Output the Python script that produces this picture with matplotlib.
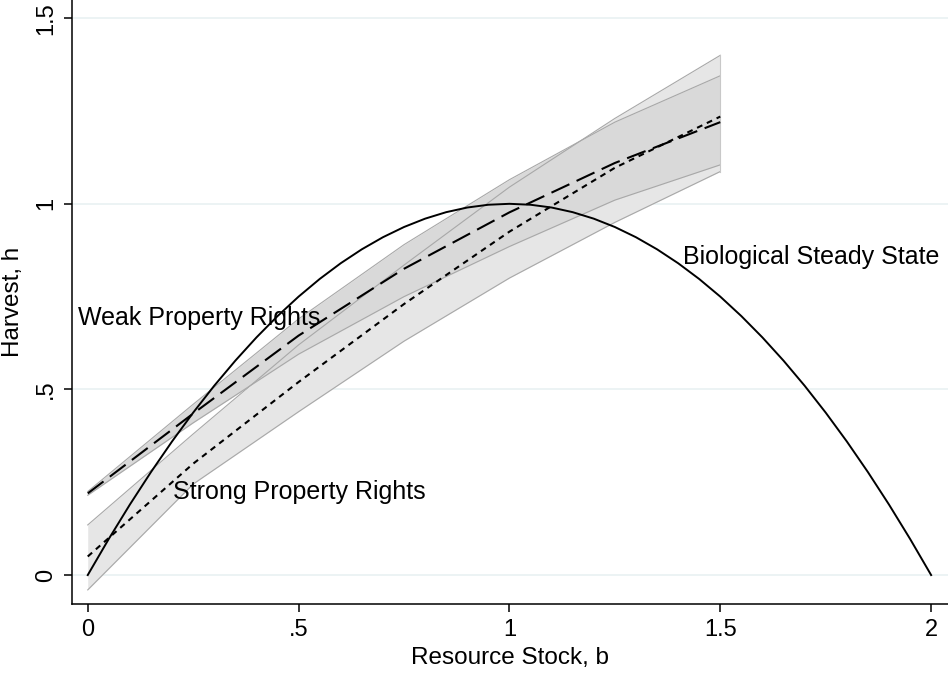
import numpy as np
import matplotlib.pyplot as plt

plt.rcParams["font.family"] = ["Liberation Sans", "DejaVu Sans"]

# biological steady state
bio_b = [0.0, 0.05, 0.1, 0.15, 0.2, 0.25, 0.3, 0.35, 0.4, 0.45, 0.5,
         0.55, 0.6, 0.65, 0.7, 0.75, 0.8, 0.85, 0.9, 0.95, 1.0,
         1.05, 1.1, 1.15, 1.2, 1.25, 1.3, 1.35, 1.4, 1.45, 1.5,
         1.55, 1.6, 1.65, 1.7, 1.75, 1.8, 1.85, 1.9, 1.95, 2.0]
bio_h = [0.0, 0.0975, 0.19, 0.2775, 0.36, 0.4375, 0.51, 0.5775, 0.64, 0.6975, 0.75,
         0.7975, 0.84, 0.8775, 0.91, 0.9375, 0.96, 0.9775, 0.99, 0.9975, 1.0,
         0.9975, 0.99, 0.9775, 0.96, 0.9375, 0.91, 0.8775, 0.84, 0.7975, 0.75,
         0.6975, 0.64, 0.5775, 0.51, 0.4375, 0.36, 0.2775, 0.19, 0.0975, 0.0]

# fitted harvest by property rights regime
stock = [0.0, 0.25, 0.5, 0.75, 1.0, 1.25, 1.5]

weak_mean = [0.22, 0.435, 0.645, 0.825, 0.977, 1.11, 1.22]
weak_lo = [0.215, 0.41, 0.595, 0.75, 0.885, 1.01, 1.105]
weak_hi = [0.225, 0.46, 0.69, 0.89, 1.065, 1.22, 1.345]

strong_mean = [0.05, 0.30, 0.52, 0.73, 0.925, 1.097, 1.235]
strong_lo = [-0.04, 0.245, 0.44, 0.63, 0.80, 0.95, 1.087]
strong_hi = [0.135, 0.38, 0.62, 0.835, 1.045, 1.23, 1.40]

xticks = [0, 0.5, 1, 1.5, 2]
xtick_labels = ["0", ".5", "1", "1.5", "2"]
yticks = [0, 0.5, 1, 1.5]
ytick_labels = ["0", ".5", "1", "1.5"]

fig = plt.figure(figsize=(9.48, 6.73), dpi=100)
ax = fig.add_axes([0.076, 0.1025, 0.924, 0.8975])

ax.set_xlim(-0.0372, 2.04)
ax.set_ylim(-0.078, 1.549)

for y in yticks:
    ax.axhline(y, color="#eaf2f3", lw=1.3, zorder=0)

# confidence bands
ax.fill_between(stock, strong_lo, strong_hi, color="#e6e6e6", lw=0, zorder=1)
ax.fill_between(stock, weak_lo, weak_hi, color="#d9d9d9", lw=0, zorder=1)
for edge in [strong_lo, strong_hi, weak_lo, weak_hi]:
    ax.plot(stock, edge, color="#a8a8a8", lw=0.8, zorder=2)
ax.plot([stock[-1], stock[-1]], [strong_lo[-1], strong_hi[-1]],
        color="#c8c8c8", lw=0.8, zorder=2)

ax.plot(stock, weak_mean, color="black", lw=1.5, dashes=(9.5, 3.8), zorder=3)
ax.plot(stock, strong_mean, color="black", lw=1.5, dashes=(2.8, 2.4), zorder=3)
ax.plot(bio_b, bio_h, color="black", lw=1.4, zorder=4)

ax.text(-0.023, 0.6925, "Weak Property Rights", fontsize=18,
        va="center", ha="left", zorder=5)
ax.text(0.202, 0.224, "Strong Property Rights", fontsize=18,
        va="center", ha="left", zorder=5)
ax.text(1.412, 0.857, "Biological Steady State", fontsize=18,
        va="center", ha="left", zorder=5)

ax.set_xticks(xticks, xtick_labels, fontsize=17)
ax.set_yticks(yticks, ytick_labels, fontsize=17, rotation=90, va="center")
ax.tick_params(direction="out", length=6, width=1.1, color="black", pad=5)

ax.set_xlabel("Resource Stock, b", fontsize=17.5, labelpad=4)
ax.set_ylabel("Harvest, h", fontsize=17.5, labelpad=8)

for side in ["top", "right"]:
    ax.spines[side].set_visible(False)
for side in ["left", "bottom"]:
    ax.spines[side].set_linewidth(1.1)

fig.savefig("out.png", dpi=100)
